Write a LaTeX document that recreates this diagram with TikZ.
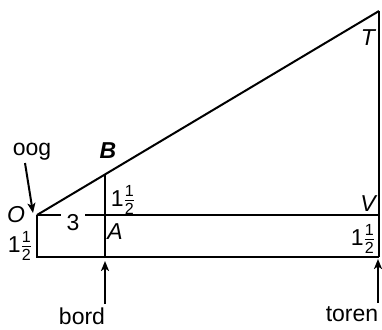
\documentclass[tikz,border=0pt]{standalone}
\usepackage{amsmath}
\usepackage{fontspec}
\setmainfont{Liberation Sans}
\usetikzlibrary{arrows.meta}
\newcommand\halfnum{1$\genfrac{}{}{0.7pt}{1}{\text{1}}{\text{2}}$}
\begin{document}
\begin{tikzpicture}[x=1pt,y=-1pt,
  lbl/.style={inner sep=0pt,font=\fontsize{23}{27}\selectfont},
  ilbl/.style={lbl,font=\fontsize{23}{27}\selectfont\itshape},
  ln/.style={line width=2pt},
  arr/.style={line width=2pt,-{Stealth[length=10pt,width=8pt,inset=2.5pt]}}]
\useasboundingbox (0,0) rectangle (382,329);
% points
\coordinate (O) at (37,215);
\coordinate (V) at (379,215);
\coordinate (T) at (379,11);
\coordinate (A) at (105,215);
\coordinate (B) at (105,174.4);
\coordinate (BL) at (37,257);
\coordinate (BA) at (105,257);
\coordinate (BR) at (379,257);
% lines
\draw[ln] (O) -- (T);
\draw[ln] (T) -- (BR);
\draw[ln] (O) -- (V);
\draw[ln] (O) -- (BL) -- (BR);
\draw[ln] (B) -- (BA);
% labels
\node[lbl,fill=white,inner xsep=6pt,inner ysep=3pt] (n3) at (73,223) {3};
\node[lbl] (oog) at (32,152) {oog};
\node[lbl,font=\fontsize{23}{27}\selectfont\bfseries\itshape] (Bl) at (108,151) {B};
\node[lbl] (h1) at (123,200) {\halfnum};
\node[ilbl] (Ol) at (16,215) {O};
\node[ilbl] (Al) at (115,232) {A};
\node[lbl] (h2) at (20,246) {\halfnum};
\node[ilbl] (Vl) at (368,204) {V};
\node[lbl] (h3) at (363,239) {\halfnum};
\node[ilbl] (Tl) at (368,38) {T};
\node[lbl] (bord) at (82,316) {bord};
\node[lbl] (toren) at (352,314) {toren};
% arrows
\coordinate (oogS) at (25,163);
\coordinate (oogE) at (33,213);
\coordinate (bordS) at (105,304);
\coordinate (bordE) at (105,261);
\coordinate (torS) at (378,303);
\coordinate (torE) at (378,259);
\draw[arr] (oogS) -- (oogE);
\draw[arr] (bordS) -- (bordE);
\draw[arr] (torS) -- (torE);
\end{tikzpicture}
\end{document}
